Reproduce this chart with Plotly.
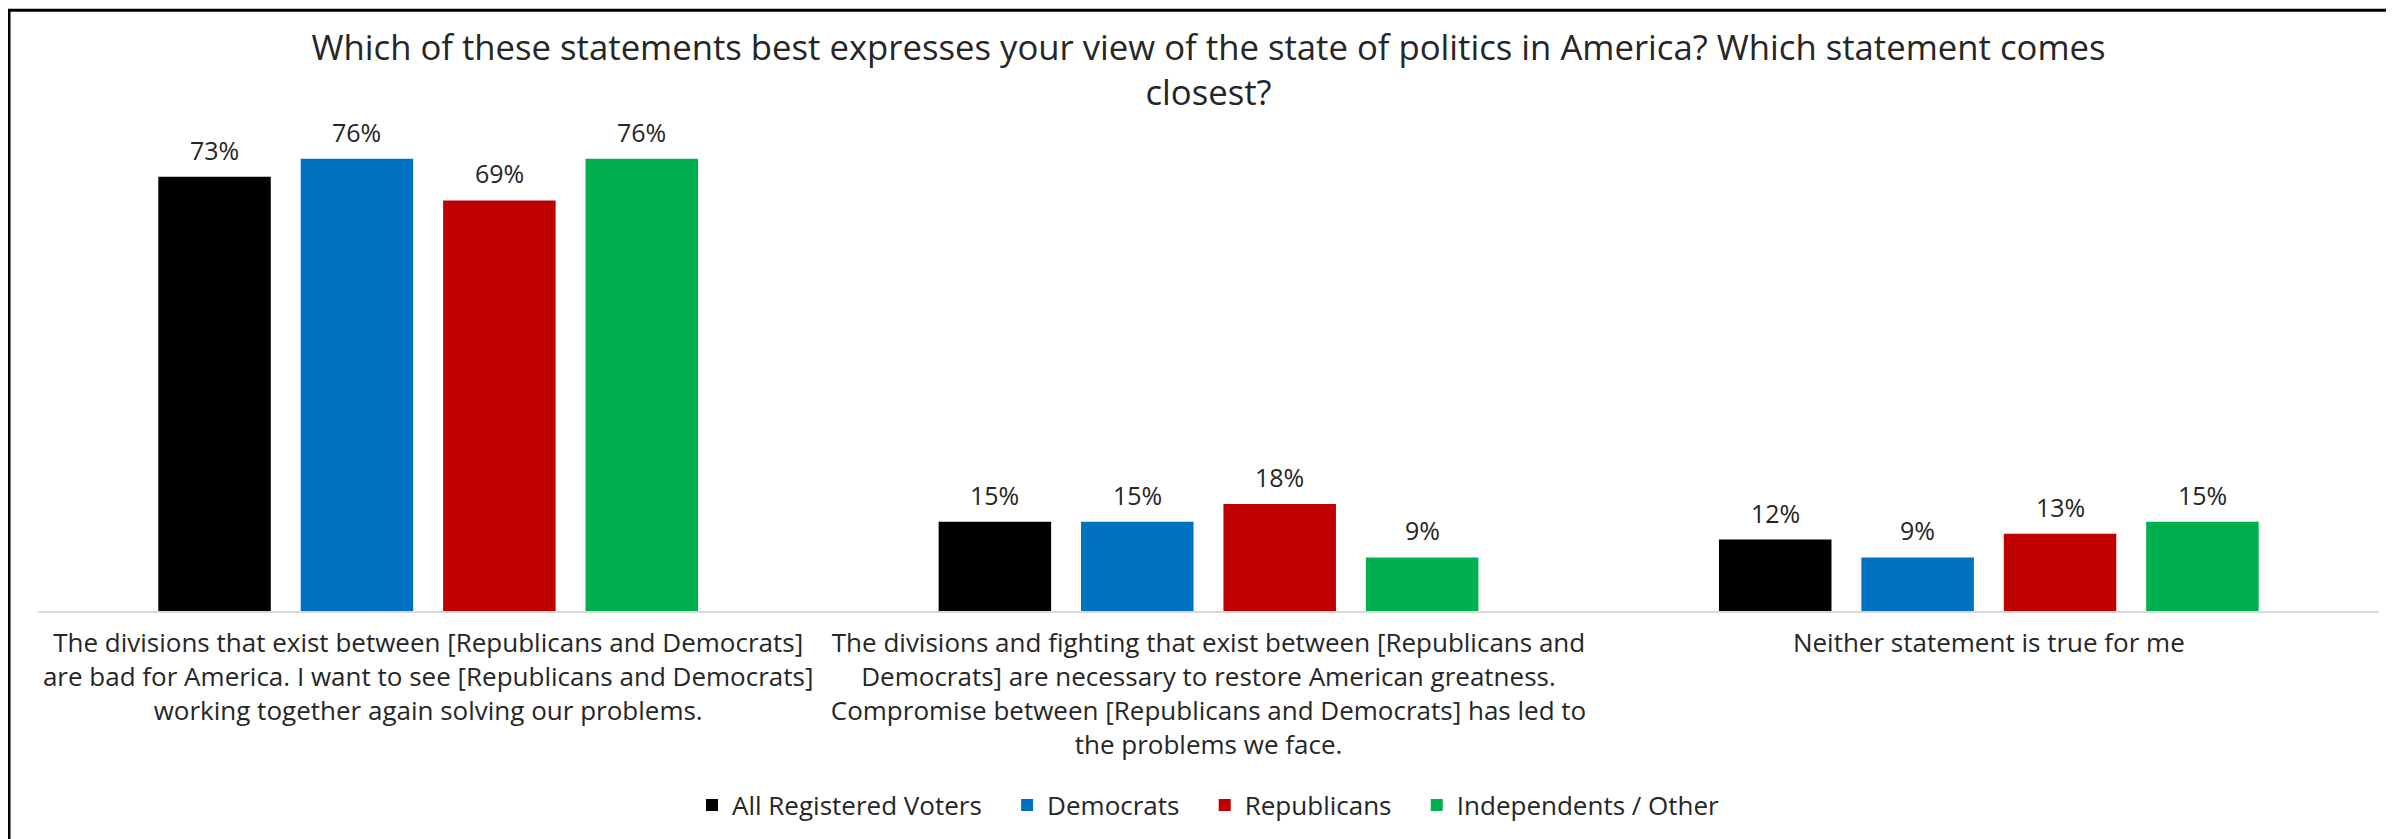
import plotly.graph_objects as go

categories = [
    "The divisions that exist between [Republicans and Democrats]<br>are bad for America. I want to see [Republicans and Democrats]<br>working together again solving our problems.",
    "The divisions and fighting that exist between [Republicans and<br>Democrats] are necessary to restore American greatness.<br>Compromise between [Republicans and Democrats] has led to<br>the problems we face.",
    "Neither statement is true for me",
]
series_names = ["All Registered Voters", "Democrats", "Republicans", "Independents / Other"]
all_voters = [73, 15, 12]
democrats = [76, 15, 9]
republicans = [69, 18, 13]
independents = [76, 9, 15]
colors = ["#000000", "#0070C0", "#C00000", "#00B050"]

title_text = ("Which of these statements best expresses your view of the state of politics in America? Which statement comes"
              "<br>closest?")

FONT = "Open Sans"
TXT = "#262626"

# page body adds an 8px offset; figure sized to fit the window
OFF = 8
W, H = 2394 - OFF, 839 - OFF
L, R, T, B = 38 - OFF, 15, 135 - OFF, 227
pw = W - L - R
ph = H - T - B
BARGAP, GROUPGAP = 0.27, 0.21
n_series = len(series_names)
slot_px = pw / len(categories) * (1 - BARGAP) / n_series

def px_x(p):  # screen px -> paper
    return (p - OFF - L) / pw

def px_y(p):
    return (H - B - (p - OFF)) / ph

fig = go.Figure()
annotations = []
all_series = [all_voters, democrats, republicans, independents]
for i, (name, vals, col) in enumerate(zip(series_names, all_series, colors)):
    legend_name = name + ("\u00a0\u00a0\u00a0" if i < n_series - 1 else "")
    fig.add_trace(go.Bar(
        name=legend_name, x=categories, y=vals,
        marker=dict(color=col, line=dict(width=0)),
    ))
    shift = (i - (n_series - 1) / 2) * slot_px
    for cat, v in zip(categories, vals):
        annotations.append(dict(
            x=cat, y=v, xref="x", yref="y", text=f"{v:.0f}%", showarrow=False,
            xanchor="center", yanchor="bottom", xshift=shift, yshift=8,
            font=dict(family=FONT, size=25, color=TXT),
        ))

fig.update_layout(
    width=W, height=H,
    margin=dict(l=L, r=R, t=T, b=B),
    paper_bgcolor="white", plot_bgcolor="white",
    barmode="group", bargap=BARGAP, bargroupgap=GROUPGAP,
    font=dict(family=FONT, size=25, color=TXT),
    title=dict(text=title_text, x=0.5, xref="paper", xanchor="center",
               y=1 - 52 / H, yref="container", yanchor="middle",
               font=dict(family=FONT, size=34.7, color=TXT)),
    xaxis=dict(showline=True, linecolor="#D9D9D9", linewidth=2, ticks="",
               ticklabelstandoff=8,
               tickfont=dict(family=FONT, size=26, color=TXT), showgrid=False),
    yaxis=dict(range=[0, 80], visible=False, showgrid=False, zeroline=False),
    legend=dict(orientation="h", x=0.5, xanchor="center", y=px_y(805), yanchor="middle",
                font=dict(family=FONT, size=26, color=TXT), traceorder="normal",
                itemclick=False),
    annotations=annotations,
    shapes=[dict(type="rect", xref="paper", yref="paper",
                 x0=px_x(9), x1=px_x(2390), y0=px_y(10), y1=px_y(870),
                 line=dict(color="black", width=3), fillcolor="rgba(0,0,0,0)", layer="below")],
)

fig.write_html("out.html")
